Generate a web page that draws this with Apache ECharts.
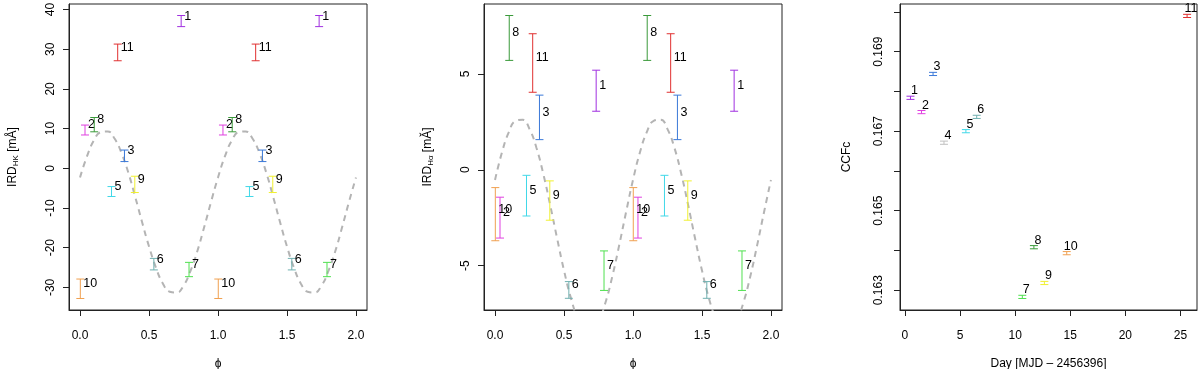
<!DOCTYPE html>
<html>
<head>
<meta charset="utf-8">
<script src="https://cdn.jsdelivr.net/npm/echarts@6/dist/echarts.min.js"></script>
<style>
  html, body { margin: 0; padding: 0; background: #fff; }
  #chart { width: 1200px; height: 369px; }
</style>
</head>
<body>
<div id="chart"></div>
<script>
// observation numbers and rotational phase (panels 1 and 2, no #4)
var ids = [1, 2, 3, 5, 6, 7, 8, 9, 10, 11];
var phase = [0.733, 0.036, 0.322, 0.228, 0.535, 0.790, 0.103, 0.397, 0.002, 0.273];
// IRD_HK error bars [mA]
var hkLo = [35.7, 8.4, 1.7, -7.1, -25.6, -27.3, 9.2, -6.1, -32.8, 27.1];
var hkHi = [38.5, 10.9, 4.6, -4.6, -22.7, -23.7, 12.8, -2.0, -27.9, 31.3];
// IRD_Halpha error bars [mA]
var haLo = [3.05, -3.56, 1.57, -2.41, -6.70, -6.29, 5.70, -2.63, -3.70, 4.04];
var haHi = [5.19, -1.43, 3.89, -0.29, -5.83, -4.23, 8.04, -0.58, -0.93, 7.09];
var curvePhase = [0, 0.05, 0.1, 0.15, 0.2, 0.25, 0.3, 0.35, 0.4, 0.45, 0.5, 0.55, 0.6, 0.65, 0.7, 0.75, 0.8, 0.85, 0.9, 0.95];
var hkCurve = [-2.3, 3.0, 7.0, 9.1, 9.3, 7.5, 3.9, -1.1, -7.2, -13.6, -19.7, -25.0, -29.0, -31.1, -31.3, -29.6, -25.9, -20.9, -14.8, -8.4];
var haCurve = [-0.53, 0.90, 1.96, 2.55, 2.61, 2.12, 1.15, -0.22, -1.85, -3.58, -5.25, -6.69, -7.74, -8.33, -8.39, -7.90, -6.93, -5.56, -3.93, -2.20];
// CCFc vs day (panel 3)
var dayIds = [1, 2, 3, 4, 5, 6, 7, 8, 9, 10, 11];
var days = [0.50, 1.50, 2.55, 3.54, 5.53, 6.51, 10.65, 11.70, 12.65, 14.68, 25.60];
var ccf = [0.16784, 0.16748, 0.16844, 0.16671, 0.16700, 0.16736, 0.16283, 0.16408, 0.16318, 0.16393, 0.16990];
var ccfErr = 0.00004;
// tick labels
var phaseTicks = [0, 0.5, 1, 1.5, 2];
var hkTicks = [-30, -20, -10, 0, 10, 20, 30, 40];
var haTicks = [-5, 0, 5];
var dayTicks = [0, 5, 10, 15, 20, 25];
var ccfTicks = [0.163, 0.164, 0.165, 0.166, 0.167, 0.168, 0.169, 0.170];
var ccfLabels = [0.163, 0.165, 0.167, 0.169];

var colors = ['#a030e0', '#e040e0', '#3a78d8', '#c0c0c0', '#40d8e8', '#70b0b0',
              '#50e050', '#3a9a3a', '#f0f030', '#f0a050', '#e03030'];

var FONT = 'Liberation Sans, Arial, sans-serif';
var AX = '#222';

function makeBar(labelDx, labelDy, align) {
  return function (params, api) {
    var x = api.value(0), lo = api.value(1), hi = api.value(2), id = api.value(3);
    var a = api.coord([x, lo]), b = api.coord([x, hi]);
    var m = api.coord([x, (lo + hi) / 2]);
    var c = colors[id - 1];
    var w = 4;
    return {
      type: 'group',
      children: [
        { type: 'line', shape: { x1: a[0], y1: a[1], x2: b[0], y2: b[1] }, style: { stroke: c, lineWidth: 1 } },
        { type: 'line', shape: { x1: a[0] - w, y1: a[1], x2: a[0] + w, y2: a[1] }, style: { stroke: c, lineWidth: 1 } },
        { type: 'line', shape: { x1: b[0] - w, y1: b[1], x2: b[0] + w, y2: b[1] }, style: { stroke: c, lineWidth: 1 } },
        { type: 'text', x: m[0] + labelDx, y: m[1] + labelDy,
          style: { text: String(id), fill: '#000', fontSize: 12.5, fontFamily: FONT, align: align, verticalAlign: 'middle' } }
      ]
    };
  };
}

function barData(lo, hi, shift) {
  return ids.map(function (id, i) { return [phase[i] + shift, lo[i], hi[i], id]; });
}
function curveData(vals) {
  var out = [];
  [0, 1].forEach(function (k) {
    curvePhase.forEach(function (p, i) { out.push([p + k, vals[i]]); });
  });
  out.push([2, vals[0]]);
  return out;
}

function xAxisOf(gi, min, max, ticks, fmt, name) {
  return {
    type: 'value', gridIndex: gi, min: min, max: max,
    name: name, nameLocation: 'middle', nameGap: 48,
    nameTextStyle: { fontFamily: FONT, fontSize: 12, color: '#000' },
    axisLine: { show: true, onZero: false, lineStyle: { color: AX, width: 1 } },
    axisTick: { show: true, length: 6, customValues: ticks, lineStyle: { color: AX } },
    axisLabel: { customValues: ticks, formatter: fmt, margin: 20, fontFamily: FONT, fontSize: 12, color: '#000' },
    splitLine: { show: false }
  };
}
function yAxisOf(gi, min, max, ticks, labels, fmt, name, gap, margin, rich) {
  return {
    type: 'value', gridIndex: gi, min: min, max: max,
    name: name, nameLocation: 'middle', nameGap: gap,
    nameTextStyle: { fontFamily: FONT, fontSize: 12, color: '#000', rich: rich },
    axisLine: { show: true, onZero: false, lineStyle: { color: AX, width: 1 } },
    axisTick: { show: true, length: 6, customValues: ticks, lineStyle: { color: AX } },
    axisLabel: { customValues: labels, formatter: fmt, rotate: 90, margin: margin, fontFamily: FONT, fontSize: 12, color: '#000' },
    splitLine: { show: false }
  };
}

var subRich = {
  sub: { fontSize: 8, fontFamily: FONT, color: '#000', padding: [7, 0, 0, 0] },
  base: { fontSize: 12, fontFamily: FONT, color: '#000' }
};

var dashed = { color: '#b4b4b4', width: 2, type: [6, 5] };

function gridAt(left, width) {
  return { left: left, top: 4, width: width, height: 306, show: true, borderColor: AX, borderWidth: 1,
           outerBoundsMode: 'none', containLabel: false };
}

var chart = echarts.init(document.getElementById('chart'));
chart.setOption({
  animation: false,
  backgroundColor: '#fff',
  grid: [gridAt(69, 298), gridAt(484, 298), gridAt(900, 297)],
  xAxis: [
    xAxisOf(0, -0.08, 2.08, phaseTicks, function (v) { return v.toFixed(1); }, 'ϕ'),
    xAxisOf(1, -0.08, 2.08, phaseTicks, function (v) { return v.toFixed(1); }, 'ϕ'),
    xAxisOf(2, -0.45, 26.5, dayTicks, function (v) { return String(v); }, 'Day [MJD – 2456396]')
  ],
  yAxis: [
    yAxisOf(0, -35.7, 41.4, hkTicks, hkTicks, function (v) { return String(v); },
      '{base|IRD}{sub|HK}{base| [mÅ]}', 49, 12, subRich),
    yAxisOf(1, -7.31, 8.64, haTicks, haTicks, function (v) { return String(v); },
      '{base|IRD}{sub|Hα}{base| [mǍ]}', 49, 12, subRich),
    yAxisOf(2, 0.1625, 0.1702, ccfTicks, ccfLabels, function (v) { return v.toFixed(3); },
      'CCFc', 47, 15, null)
  ],
  series: [
    { type: 'line', xAxisIndex: 0, yAxisIndex: 0, data: curveData(hkCurve), smooth: true, symbol: 'none', lineStyle: dashed, clip: true, z: 1 },
    { type: 'line', xAxisIndex: 1, yAxisIndex: 1, data: curveData(haCurve), smooth: true, symbol: 'none', lineStyle: dashed, clip: true, z: 1 },
    { type: 'custom', xAxisIndex: 0, yAxisIndex: 0, renderItem: makeBar(3, -5, 'left'),
      data: barData(hkLo, hkHi, 0).concat(barData(hkLo, hkHi, 1)), encode: { x: 0, y: [1, 2] }, z: 2 },
    { type: 'custom', xAxisIndex: 1, yAxisIndex: 1, renderItem: makeBar(3, -5, 'left'),
      data: barData(haLo, haHi, 0).concat(barData(haLo, haHi, 1)), encode: { x: 0, y: [1, 2] }, z: 2 },
    { type: 'custom', xAxisIndex: 2, yAxisIndex: 2, renderItem: makeBar(4, -7, 'center'),
      data: dayIds.map(function (id, i) { return [days[i], ccf[i] - ccfErr, ccf[i] + ccfErr, id]; }),
      encode: { x: 0, y: [1, 2] }, z: 2 }
  ]
});
</script>
</body>
</html>
